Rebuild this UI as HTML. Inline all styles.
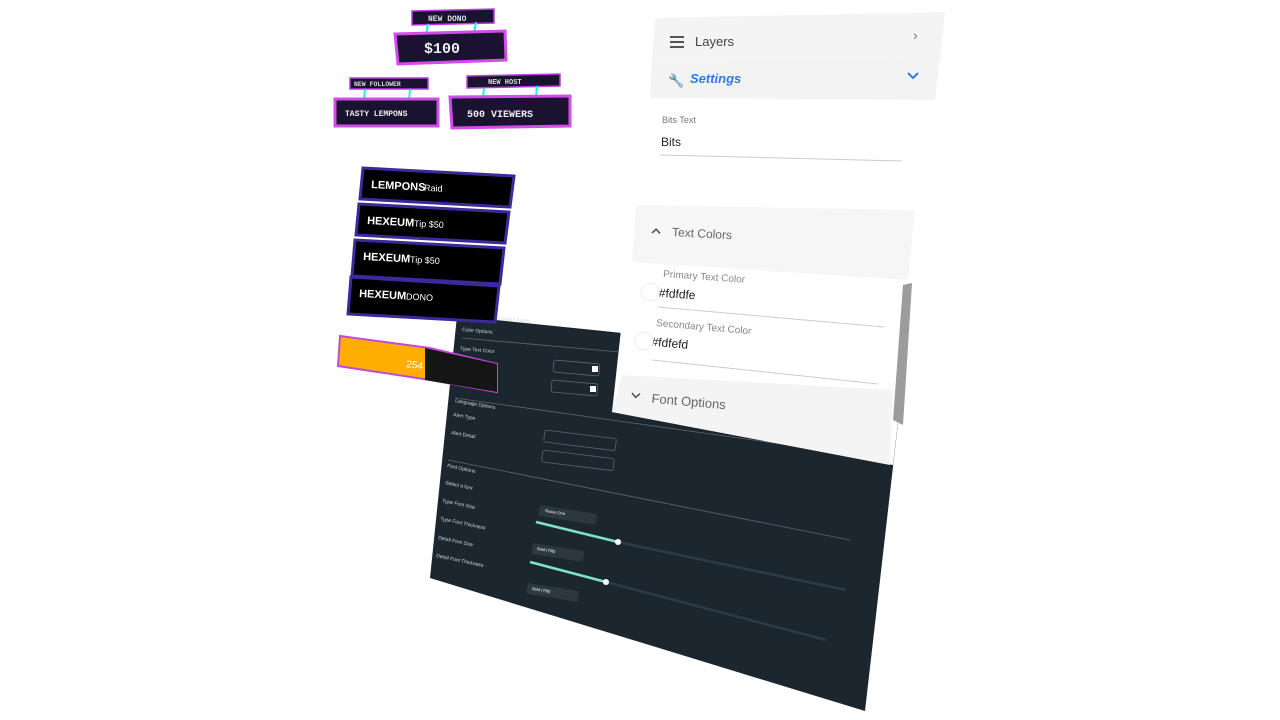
<!DOCTYPE html>
<html><head><meta charset="utf-8"><style>
html,body{margin:0;padding:0;background:#fff;width:1280px;height:720px;overflow:hidden}
svg{display:block}
text{font-family:"Liberation Sans",sans-serif}
text.m{font-family:"Liberation Mono",monospace;font-weight:bold}
</style></head><body>
<svg width="1280" height="720" viewBox="0 0 1280 720">
<rect width="1280" height="720" fill="#fff"/>
<polygon points="457,316 905,362 865,711 430,578" fill="#1c262f"/>
<g fill="#cfd6dc" font-size="5">
<g transform="translate(498,320) rotate(5)"><text>Custom Fields</text></g>
<g transform="translate(462,331) rotate(5)"><text>Color Options</text></g>
<g transform="translate(460,350) rotate(5)"><text>Type Text Color</text></g>
<g transform="translate(455,402) rotate(10)"><text>Language Options</text></g>
<g transform="translate(453,416) rotate(10)"><text>Alert Type</text></g>
<g transform="translate(451,434) rotate(10)"><text>Alert Detail</text></g>
<g transform="translate(447,467) rotate(12)"><text>Font Options</text></g>
<g transform="translate(445,484) rotate(12)"><text>Select a font</text></g>
<g transform="translate(442,502) rotate(12)"><text>Type Font Size</text></g>
<g transform="translate(440,520) rotate(12)"><text>Type Font Thickness</text></g>
<g transform="translate(438,539) rotate(12)"><text>Detail Font Size</text></g>
<g transform="translate(436,557) rotate(12)"><text>Detail Font Thickness</text></g>
</g>
<g fill="none" stroke="#5a6670" stroke-width="0.8">
<line x1="462" y1="338" x2="620" y2="352"/>
<line x1="455" y1="398" x2="860" y2="455"/>
<line x1="448" y1="460" x2="850" y2="540"/>
<rect x="554" y="360" width="46" height="12" rx="2" transform="rotate(5 554 360)"/>
<rect x="552" y="380" width="46" height="12" rx="2" transform="rotate(5 552 380)"/>
<rect x="545" y="430" width="72" height="12" rx="2" transform="rotate(7 545 430)"/>
<rect x="543" y="450" width="72" height="12" rx="2" transform="rotate(7 543 450)"/>
</g>
<rect x="592" y="366" width="6" height="6" fill="#fff"/>
<rect x="590" y="386" width="6" height="6" fill="#fff"/>
<g fill="#2c3740">
<rect x="540" y="505" width="58" height="11" rx="2" transform="rotate(9 540 505)"/>
<rect x="533" y="543" width="52" height="11" rx="2" transform="rotate(9 533 543)"/>
<rect x="528" y="583" width="52" height="11" rx="2" transform="rotate(9 528 583)"/>
</g>
<g fill="#fff" font-size="4"><text x="545" y="512" transform="rotate(9 545 512)">Russo One</text><text x="537" y="550" transform="rotate(9 537 550)">Bold (700)</text><text x="532" y="590" transform="rotate(9 532 590)">Bold (700)</text></g>
<g stroke-width="2.5">
<line x1="536" y1="522" x2="618" y2="542" stroke="#7de3cc"/><line x1="618" y1="542" x2="846" y2="590" stroke="#2e3a44"/>
<line x1="530" y1="562" x2="606" y2="582" stroke="#7de3cc"/><line x1="606" y1="582" x2="826" y2="640" stroke="#2e3a44"/>
</g>
<circle cx="618" cy="542" r="3" fill="#fff"/><circle cx="606" cy="582" r="3" fill="#fff"/>
<polygon points="655,18 945,12 893,465 612,412" fill="#fff"/>
<polygon points="655,18 945,12 940,60 652,60" fill="#f4f4f4"/>
<polygon points="652,60 940,58 935,100 650,98" fill="#f3f3f3"/>
<polygon points="636,205 915,210 908,280 632,262" fill="#f6f6f6"/>
<polygon points="622,375 893,390 890,465 612,412" fill="#f4f4f4"/>
<polygon points="903,285 912,283 903,425 893,420" fill="#9c9c9c"/>
<g fill="#555"><rect x="670" y="36" width="14" height="2"/><rect x="670" y="41" width="14" height="2"/><rect x="670" y="46" width="14" height="2"/></g>
<text x="695" y="46" font-size="13" fill="#444">Layers</text>
<text x="913" y="40" font-size="14" fill="#777">›</text>
<text x="668" y="85" font-size="13" fill="#2f7be3">🔧</text>
<text x="690" y="83" font-size="13" fill="#2f7be3" font-weight="bold" font-style="italic">Settings</text>
<path d="M908 73 l5 5 l5 -5" stroke="#2f7be3" stroke-width="2" fill="none"/>
<text x="662" y="123" font-size="9" fill="#777">Bits Text</text>
<text x="661" y="146" font-size="12" fill="#222">Bits</text>
<line x1="660" y1="155" x2="902" y2="161" stroke="#ccc"/>
<g transform="translate(652,233) rotate(3)"><path d="M0 0 l4 -4 l4 4" stroke="#555" stroke-width="1.6" fill="none"/><text x="20" y="2" font-size="12" fill="#666">Text Colors</text></g>
<g transform="translate(663,277) rotate(4)"><text font-size="10" fill="#888">Primary Text Color</text><text x="-3" y="20" font-size="12" fill="#222">#fdfdfe</text></g>
<line x1="658" y1="307" x2="884" y2="327" stroke="#ccc"/>
<g transform="translate(656,326) rotate(5)"><text font-size="10" fill="#888">Secondary Text Color</text><text x="-3" y="20" font-size="12" fill="#222">#fdfefd</text></g>
<line x1="652" y1="360" x2="878" y2="384" stroke="#ccc"/>
<circle cx="650" cy="292" r="9" fill="#fff" stroke="#eee"/><circle cx="644" cy="341" r="9" fill="#fff" stroke="#eee"/>
<g transform="translate(632,393) rotate(5)"><path d="M0 0 l4 4 l4 -4" stroke="#555" stroke-width="1.6" fill="none"/><text x="20" y="8" font-size="13" fill="#666">Font Options</text></g>
<polygon points="412,11 494,9 494,23 412,25" fill="#1a1230" stroke="#b340d8" stroke-width="1.5"/>
<text class="m" x="428" y="21" font-size="8" fill="#ddd">NEW DONO</text>
<line x1="428" y1="24" x2="426" y2="35" stroke="#2ee" stroke-width="2"/><line x1="476" y1="22" x2="474" y2="33" stroke="#2ee" stroke-width="2"/>
<polygon points="395,34 505,31 506,60 398,64" fill="#1a1230" stroke="#d24ce8" stroke-width="3"/>
<text class="m" x="424" y="53" font-size="15" fill="#eee">$100</text>
<polygon points="350,78 428,78 428,89 350,89" fill="#1a1230" stroke="#b340d8" stroke-width="1.5"/>
<text class="m" x="354" y="86" font-size="6.5" fill="#ddd">NEW FOLLOWER</text>
<polygon points="467,76 560,74 560,86 467,88" fill="#1a1230" stroke="#b340d8" stroke-width="1.5"/>
<text class="m" x="488" y="84" font-size="7" fill="#ddd">NEW HOST</text>
<line x1="365" y1="89" x2="364" y2="100" stroke="#2ee" stroke-width="2"/><line x1="410" y1="89" x2="409" y2="100" stroke="#2ee" stroke-width="2"/>
<line x1="484" y1="88" x2="483" y2="98" stroke="#2ee" stroke-width="2"/><line x1="537" y1="86" x2="536" y2="96" stroke="#2ee" stroke-width="2"/>
<polygon points="335,99 438,99 438,126 335,126" fill="#1a1230" stroke="#d24ce8" stroke-width="3"/>
<text class="m" x="345" y="116" font-size="8" fill="#eee">TASTY LEMPONS</text>
<polygon points="450,97 570,96 570,126 452,128" fill="#1a1230" stroke="#d24ce8" stroke-width="3"/>
<text class="m" x="467" y="117" font-size="10" fill="#eee">500 VIEWERS</text>
<g font-size="11">
<polygon points="363,168 514,176 510,207 360,199" fill="#000" stroke="#3a2a9a" stroke-width="3"/>
<polygon points="359,204 509,212 505,243 356,235" fill="#000" stroke="#3a2a9a" stroke-width="3"/>
<polygon points="355,240 504,248 500,284 352,276" fill="#000" stroke="#3a2a9a" stroke-width="3"/>
<polygon points="351,277 499,286 495,322 348,314" fill="#000" stroke="#3a2a9a" stroke-width="3"/>
<g fill="#fff"><g transform="translate(371,188) rotate(3)"><text font-weight="bold">LEMPONS</text><text x="53" font-size="9">Raid</text></g>
<g transform="translate(367,224) rotate(3)"><text font-weight="bold">HEXEUM</text><text x="47" font-size="9">Tip $50</text></g>
<g transform="translate(363,260) rotate(3)"><text font-weight="bold">HEXEUM</text><text x="47" font-size="9">Tip $50</text></g>
<g transform="translate(359,297) rotate(3)"><text font-weight="bold">HEXEUM</text><text x="47" font-size="9">DONO</text></g></g>
</g>
<polygon points="340,336 430,348 497,364 497,392 430,380 338,366" fill="#ffae00" stroke="#c04bd8" stroke-width="2"/>
<polygon points="425,348 497,364 497,392 425,380" fill="#151515"/>
<text x="406" y="367" font-size="10" fill="#fff" transform="rotate(8 406 367)">254</text>
</svg>
</body></html>
